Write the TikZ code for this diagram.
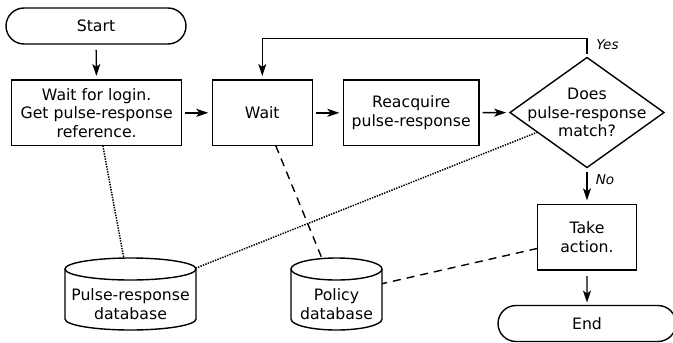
\documentclass[tikz,border=0pt]{standalone}
\usepackage{fontspec}
\setmainfont{DejaVu Sans}
\usetikzlibrary{shapes.geometric,shapes.misc,arrows.meta,calc}
\tikzset{
  txt/.style={font=\fontsize{15.7}{18.5}\selectfont, align=center},
  base/.style={txt, draw, line width=1.4pt, inner sep=0pt, outer sep=0pt},
  procbox/.style={base, rectangle, minimum height=65.7pt},
  term/.style={base, rounded rectangle, minimum width=180pt, minimum height=36pt},
  decis/.style={base, diamond, minimum width=154pt, minimum height=110pt},
  dbnode/.style={rectangle, inner sep=0pt, outer sep=0pt, minimum height=72pt},
  dbline/.style={line width=1.4pt},
  arr/.style={line width=1.4pt, -{Stealth[length=12pt,width=8pt,inset=3pt]}, shorten <=4pt, shorten >=4pt},
  dotline/.style={line width=1.5pt, dash pattern=on 1.4pt off 1.2pt},
  dashline/.style={line width=1.4pt, dash pattern=on 8pt off 6pt},
  tag/.style={font=\fontsize{13.5}{15}\selectfont\itshape}
}
\begin{document}
\begin{tikzpicture}[x=1pt,y=1pt]
\useasboundingbox (0,0) rectangle (673,-343);
% nodes
\node[term] (start) at (96,-26) {Start};
\node[procbox, minimum width=170pt] (login) at (96.7,-112.8) {Wait for login.\\Get pulse-response\\reference.};
\node[procbox, minimum width=100pt] (wait) at (262.3,-112.8) {Wait};
\node[procbox, minimum width=135.7pt] (reacq) at (411.2,-112.8) {Reacquire\\pulse-response};
\node[decis, label={[txt]center:Does\\pulse-response\\match?}] (match) at (587,-112.5) {};
\node[procbox, minimum width=99.4pt] (take) at (587,-237.2) {Take\\action.};
\node[term, minimum width=178pt] (end) at (587,-323.5) {End};
% databases
\node[dbnode, minimum width=131pt, label={[txt,yshift=-10pt]center:Pulse-response\\database}] (db1) at (130.5,-294) {};
\node[dbnode, minimum width=91pt, label={[txt,yshift=-10pt]center:Policy\\database}] (db2) at (336.5,-294) {};
\draw[dbline] ([yshift=-11pt]db1.north west) -- ([yshift=11pt]db1.south west)
  arc[start angle=180,end angle=360,x radius=65.5pt,y radius=11pt] -- ([yshift=-11pt]db1.north east);
\draw[dbline] ([yshift=-11pt]db1.north) ellipse[x radius=65.5pt,y radius=11pt];
\draw[dbline] ([yshift=-11pt]db2.north west) -- ([yshift=11pt]db2.south west)
  arc[start angle=180,end angle=360,x radius=45.5pt,y radius=11pt] -- ([yshift=-11pt]db2.north east);
\draw[dbline] ([yshift=-11pt]db2.north) ellipse[x radius=45.5pt,y radius=11pt];
% flow arrows
\draw[arr, shorten <=6pt] (start) -- (login);
\draw[arr, shorten <=3.5pt] (login) -- (wait);
\draw[arr, shorten <=3.5pt] (wait) -- (reacq);
\draw[arr, shorten <=3.5pt] (reacq) -- (match);
\draw[arr] (match.north) -- ++(0,19) coordinate (yc) -| (wait.north);
\draw[arr] (match) -- (take);
\draw[arr, shorten <=6pt, shorten >=3pt] (take) -- (end);
\node[tag] (yes) at (607.5,-45) {Yes};
\node[tag] (no) at (605,-180) {No};
% data links
\draw[dotline] (login) -- (db1);
\draw[dotline] (match) -- (db1);
\draw[dashline] (wait) -- (db2);
\draw[dashline] (take) -- (db2);
\end{tikzpicture}
\end{document}
